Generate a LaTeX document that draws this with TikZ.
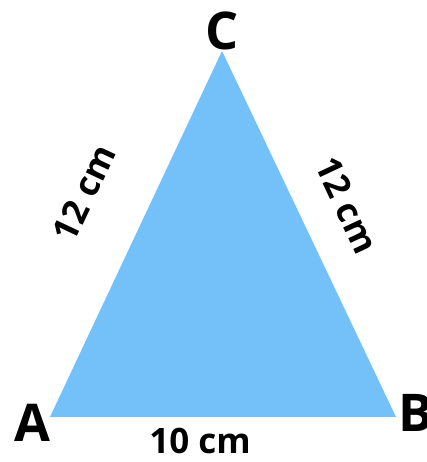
\documentclass[tikz,border=0pt]{standalone}
\usepackage{fontspec}
\setmainfont{Open Sans}
\usetikzlibrary{positioning}
\definecolor{triblue}{RGB}{116,192,248}
\tikzset{
  vlabel/.style={font=\fontsize{52}{52}\selectfont\bfseries,inner sep=0pt},
  slabel/.style={font=\fontsize{35}{35}\selectfont\bfseries,inner sep=0pt}
}

\begin{document}
\begin{tikzpicture}[x=1pt,y=-1pt]
\useasboundingbox (0,0) rectangle (427,462);
\coordinate (A) at (50,417);
\coordinate (B) at (396,417);
\coordinate (C) at (222,51);
\fill[triblue] (A) -- (B) -- (C) -- cycle;
\node[vlabel] (lA) at (32,423) {A};
\node[vlabel] (lB) at (416,413) {B};
\node[vlabel] (lC) at (222,31) {C};
\node[slabel,rotate=64.8] (sAC) at (84,193) {12 cm};
\node[slabel,rotate=-64.8] (sBC) at (347,205) {12 cm};
\node[slabel] (sAB) at (200,441) {10 cm};
\end{tikzpicture}
\end{document}
